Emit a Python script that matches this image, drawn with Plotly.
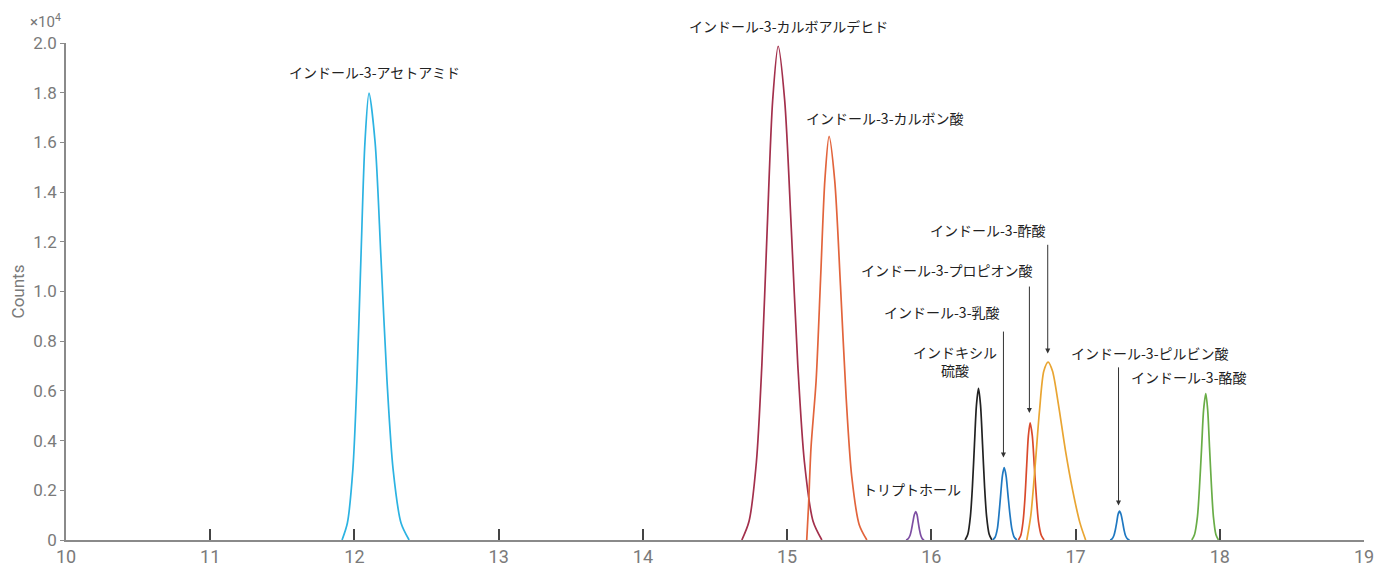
import plotly.graph_objects as go

# ---- data (retention time in min, counts) ----
names = ["インドール-3-アセトアミド", "インドール-3-カルボアルデヒド", "インドール-3-カルボン酸",
         "トリプトホール", "インドキシル硫酸", "インドール-3-乳酸", "インドール-3-プロピオン酸",
         "インドール-3-酢酸", "インドール-3-ピルビン酸", "インドール-3-酪酸"]

acetamide_t = [11.914, 11.951, 11.989, 12.017, 12.045, 12.073, 12.101, 12.143, 12.184, 12.226, 12.268, 12.323, 12.379]
acetamide_c = [0, 683, 2841, 6383, 11345, 16020, 17980, 16020, 11345, 6383, 2841, 683, 0]

carboxaldehyde_t = [14.686, 14.736, 14.787, 14.825, 14.862, 14.900, 14.938, 14.983, 15.029, 15.074, 15.120, 15.180, 15.241]
carboxaldehyde_c = [0, 755, 3139, 7054, 12538, 17704, 19870, 17704, 12538, 7054, 3139, 755, 0]

carboxylic_t = [15.136, 15.148, 15.166, 15.201, 15.232, 15.262, 15.291, 15.330, 15.370, 15.409, 15.448, 15.500, 15.553]
carboxylic_c = [0, 1320, 3740, 6400, 10500, 14500, 16240, 14470, 10248, 5765, 2566, 617, 0]

tryptophol_t = [15.825, 15.838, 15.852, 15.862, 15.872, 15.882, 15.892, 15.901, 15.909, 15.918, 15.927, 15.938, 15.950]
tryptophol_c = [0, 43, 180, 405, 719, 1016, 1140, 1016, 719, 405, 180, 43, 0]

indoxyl_t = [16.234, 16.253, 16.271, 16.285, 16.299, 16.313, 16.327, 16.341, 16.355, 16.369, 16.383, 16.401, 16.420]
indoxyl_c = [0, 232, 964, 2166, 3849, 5435, 6100, 5435, 3849, 2166, 964, 232, 0]

lactic_t = [16.426, 16.442, 16.458, 16.469, 16.481, 16.493, 16.505, 16.518, 16.531, 16.545, 16.558, 16.575, 16.593]
lactic_c = [0, 111, 460, 1033, 1836, 2593, 2910, 2593, 1836, 1033, 460, 111, 0]

propionic_t = [16.604, 16.620, 16.636, 16.649, 16.661, 16.673, 16.685, 16.700, 16.714, 16.729, 16.743, 16.763, 16.782]
propionic_c = [0, 179, 744, 1672, 2972, 4197, 4710, 4197, 2972, 1672, 744, 179, 0]

acetic_t = [16.662, 16.690, 16.720, 16.750, 16.780, 16.810, 16.840, 16.880, 16.930, 16.980, 17.030, 17.070]
acetic_c = [0, 1000, 3000, 5200, 6800, 7160, 6800, 5500, 3600, 2000, 700, 0]

pyruvic_t = [17.240, 17.253, 17.266, 17.276, 17.286, 17.295, 17.305, 17.315, 17.326, 17.336, 17.346, 17.360, 17.374]
pyruvic_c = [0, 44, 183, 412, 732, 1034, 1160, 1034, 732, 412, 183, 44, 0]

butyric_t = [17.806, 17.825, 17.845, 17.859, 17.874, 17.888, 17.903, 17.916, 17.929, 17.943, 17.956, 17.973, 17.991]
butyric_c = [0, 224, 931, 2091, 3717, 5248, 5890, 5248, 3717, 2091, 931, 224, 0]

x_ticks = [10, 11, 12, 13, 14, 15, 16, 17, 18, 19]
y_tickvals = [0, 2000, 4000, 6000, 8000, 10000, 12000, 14000, 16000, 18000, 20000]
y_ticktext = ["0", "0.2", "0.4", "0.6", "0.8", "1.0", "1.2", "1.4", "1.6", "1.8", "2.0"]
y_max = 20000

series = [
    (acetamide_t, acetamide_c, "#2cb3e2"),
    (carboxaldehyde_t, carboxaldehyde_c, "#a3304c"),
    (carboxylic_t, carboxylic_c, "#e2643c"),
    (tryptophol_t, tryptophol_c, "#7d4ea3"),
    (indoxyl_t, indoxyl_c, "#222222"),
    (lactic_t, lactic_c, "#1f78c1"),
    (propionic_t, propionic_c, "#d94a2c"),
    (acetic_t, acetic_c, "#e9a532"),
    (pyruvic_t, pyruvic_c, "#1f78c1"),
    (butyric_t, butyric_c, "#69ad47"),
]

# label positions (x, y in data units)
label_x = [12.136, 15.012, 15.680, 15.867, 16.165, 16.077, 16.110, 16.396, 17.517, 17.788]
label_y = [18850, 20680, 16985, 2036, 7200, 9185, 10870, 12480, 7508, 6552]
label_text = ["インドール-3-アセトアミド", "インドール-3-カルボアルデヒド", "インドール-3-カルボン酸",
              "トリプトホール", "インドキシル<br>硫酸", "インドール-3-乳酸", "インドール-3-プロピオン酸",
              "インドール-3-酢酸", "インドール-3-ピルビン酸", "インドール-3-酪酸"]

# arrows: tail (x, y) -> tip (x, y)
arrow_x = [16.500, 16.680, 16.807, 17.298]
arrow_tail_y = [8448, 10260, 11940, 7008]
arrow_tip_y = [3315, 5113, 7510, 1391]

fig = go.Figure()
for (t, c, col), nm in zip(series, names):
    fig.add_trace(go.Scatter(x=t, y=c, mode="lines", name=nm,
                             line=dict(color=col, width=1.7, shape="spline", smoothing=0.8),
                             hoverinfo="x+y+name"))

jp_font = dict(family="Noto Sans CJK JP, Noto Sans, sans-serif", size=14, color="#222222")
for x, y, txt in zip(label_x, label_y, label_text):
    fig.add_annotation(x=x, y=y / y_max, xref="x", yref="paper", text=txt, showarrow=False,
                       font=jp_font, xanchor="center", yanchor="middle", align="center")

for x, y0, y1 in zip(arrow_x, arrow_tail_y, arrow_tip_y):
    fig.add_annotation(x=x, y=y1, ax=x, ay=y0, xref="x", yref="y", axref="x", ayref="y",
                       text="", showarrow=True, arrowhead=2, arrowsize=1, arrowwidth=1,
                       arrowcolor="#333333", standoff=0, startstandoff=0)

fig.add_annotation(x=0, y=1, xref="paper", yref="paper", xanchor="right", yanchor="bottom",
                   xshift=-3, yshift=10, text="×10<sup>4</sup>", showarrow=False,
                   font=dict(family="Roboto, sans-serif", size=15, color="#777777"))

fig.update_layout(
    width=1380, height=556,
    margin=dict(l=58, r=24, t=35, b=24),
    plot_bgcolor="white", paper_bgcolor="white",
    showlegend=False,
    xaxis=dict(range=[10, 19], tickvals=x_ticks, ticktext=[str(v) for v in x_ticks],
               ticks="inside", ticklen=11, tickwidth=2, tickcolor="#444444",
               showline=True, linecolor="#8a8a8a", linewidth=1.5,
               showgrid=False, zeroline=False, automargin=False,
               tickfont=dict(family="Roboto, sans-serif", size=18, color="#7a7a7a")),
    yaxis=dict(range=[0, y_max], tickvals=y_tickvals, ticktext=y_ticktext,
               ticks="outside", ticklen=4, tickwidth=1, tickcolor="#8a8a8a",
               showline=True, linecolor="#8a8a8a", linewidth=1.5,
               showgrid=False, zeroline=False, automargin=False,
               tickfont=dict(family="Roboto, sans-serif", size=17, color="#7a7a7a"),
               title=dict(text="Counts", standoff=5,
                          font=dict(family="Roboto, sans-serif", size=17, color="#7a7a7a"))),
)

fig.write_html("out.html")
